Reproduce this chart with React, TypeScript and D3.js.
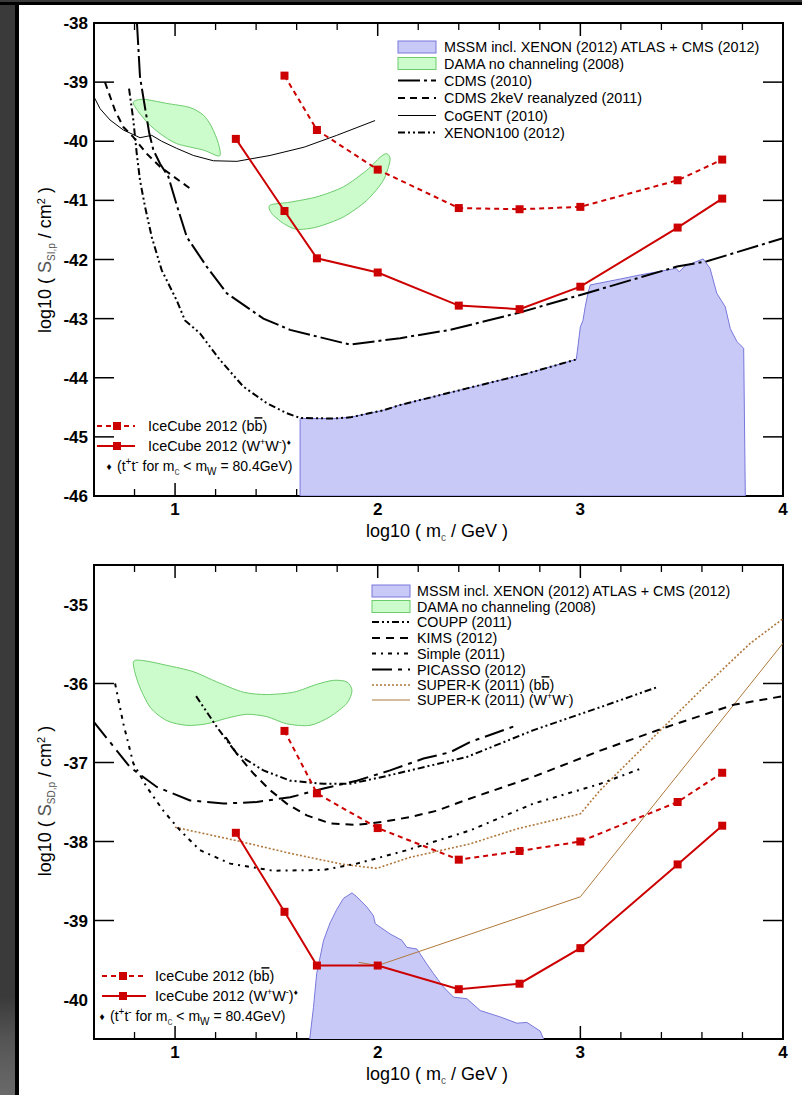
import React from "react";
import * as d3 from "d3";

// log10(m / GeV) of the IceCube mass points
const massWW = [1.3, 1.54, 1.7, 2.0, 2.4, 2.7, 3.0, 3.48, 3.7];
const massBB = [1.54, 1.7, 2.0, 2.4, 2.7, 3.0, 3.48, 3.7];

// spin-independent (top panel)
const siBB = [-38.89, -39.81, -40.48, -41.13, -41.15, -41.11, -40.66, -40.31];
const siWW = [-39.96, -41.18, -41.98, -42.22, -42.78, -42.84, -42.46, -41.46, -40.97];

// spin-dependent (bottom panel)
const sdBB = [-36.6, -37.39, -37.83, -38.23, -38.12, -38.0, -37.5, -37.13];
const sdWW = [-37.89, -38.89, -39.57, -39.57, -39.87, -39.8, -39.35, -38.29, -37.8];

const cdms2010 = [
  [0.812, -38.0], [0.827, -38.91], [0.843, -39.25], [0.873, -39.87], [0.893, -40.15],
  [0.926, -40.38], [0.967, -40.6], [1.011, -41.11], [1.058, -41.62], [1.156, -42.12],
  [1.255, -42.57], [1.436, -43.0], [1.568, -43.19], [1.864, -43.44], [2.111, -43.33],
  [2.358, -43.19], [2.687, -42.91], [3.0, -42.6], [3.477, -42.12], [3.625, -42.03], [4.0, -41.64],
];
const cdms2kev = [
  [0.654, -39.0], [0.704, -39.48], [0.745, -39.76], [0.794, -39.93],
  [0.86, -40.21], [0.926, -40.43], [1.074, -40.8],
];
const cogent = [
  [0.6, -39.25], [0.63, -39.45], [0.679, -39.64], [0.745, -39.81], [0.827, -39.94],
  [0.885, -39.9], [0.934, -40.0], [1.008, -40.12], [1.09, -40.24], [1.189, -40.33],
  [1.305, -40.34], [1.469, -40.24], [1.637, -40.1], [1.798, -39.9], [1.987, -39.65],
];
const xenon100 = [
  [0.773, -39.11], [0.794, -39.64], [0.811, -40.21], [0.827, -40.66], [0.852, -41.11],
  [0.885, -41.62], [0.934, -42.18], [1.008, -42.69], [1.049, -43.03], [1.123, -43.25],
  [1.222, -43.7], [1.337, -44.15], [1.453, -44.43], [1.551, -44.6], [1.617, -44.68],
  [1.781, -44.69], [1.864, -44.67], [2.028, -44.55], [2.111, -44.46], [2.44, -44.18],
  [2.736, -43.93], [2.98, -43.69],
];
const mssmSI = [
  [1.617, -44.69], [1.781, -44.69], [1.864, -44.67], [2.028, -44.55], [2.111, -44.46],
  [2.44, -44.18], [2.736, -43.93], [2.98, -43.69], [3.0, -43.14], [3.013, -43.03],
  [3.024, -42.8], [3.039, -42.55], [3.049, -42.43], [3.197, -42.33], [3.296, -42.26],
  [3.394, -42.2], [3.473, -42.15], [3.488, -42.21], [3.517, -42.11], [3.606, -41.99],
  [3.64, -42.15], [3.673, -42.57], [3.715, -42.8], [3.74, -43.17], [3.773, -43.39],
  [3.806, -43.5], [3.814, -46.0],
];
const damaSI1 = [
  [0.794, -39.34], [0.844, -39.29], [0.959, -39.36], [1.074, -39.43], [1.14, -39.56],
  [1.181, -39.76], [1.214, -40.04], [1.219, -40.25], [1.14, -40.15], [1.008, -40.04],
  [0.926, -39.87], [0.868, -39.7], [0.819, -39.5],
];
const damaSI2 = [
  [1.469, -41.08], [1.568, -41.03], [1.7, -40.94], [1.831, -40.77], [1.946, -40.49],
  [2.012, -40.27], [2.045, -40.21], [2.061, -40.32], [2.028, -40.66], [1.946, -41.0],
  [1.831, -41.28], [1.7, -41.45], [1.601, -41.49], [1.535, -41.39], [1.477, -41.22],
];

const coupp = [
  [1.104, -36.16], [1.206, -36.55], [1.305, -36.89], [1.436, -37.1], [1.568, -37.23],
  [1.733, -37.27], [1.864, -37.27], [2.028, -37.18], [2.226, -37.06], [2.44, -36.93],
  [2.769, -36.59], [3.098, -36.3], [3.386, -36.04],
];
const kims = [
  [1.25, -36.68], [1.305, -36.89], [1.387, -37.14], [1.469, -37.35], [1.551, -37.52],
  [1.65, -37.67], [1.765, -37.77], [1.897, -37.79], [2.028, -37.75], [2.16, -37.69],
  [2.292, -37.61], [2.44, -37.47], [2.769, -37.18], [3.098, -36.85], [3.427, -36.55],
  [3.756, -36.27], [4.0, -36.16],
];
const simple = [
  [0.704, -36.0], [0.745, -36.51], [0.794, -37.01], [0.86, -37.31], [0.942, -37.61],
  [1.025, -37.86], [1.123, -38.11], [1.272, -38.28], [1.485, -38.37], [1.733, -38.36],
  [1.897, -38.28], [2.144, -38.11], [2.456, -37.86], [2.769, -37.52], [3.098, -37.27],
  [3.296, -37.08],
];
const picasso = [
  [0.6, -36.49], [0.697, -36.8], [0.778, -37.06], [0.91, -37.31], [1.074, -37.48],
  [1.239, -37.52], [1.403, -37.5], [1.568, -37.44], [1.733, -37.33], [1.897, -37.23],
  [2.061, -37.1], [2.226, -36.95], [2.358, -36.87], [2.456, -36.74], [2.687, -36.53],
];
const superkBB = [
  [1.0, -37.82], [1.305, -37.99], [1.568, -38.15], [1.831, -38.29], [1.996, -38.34],
  [2.16, -38.2], [2.456, -38.03], [2.687, -37.84], [3.0, -37.65], [3.098, -37.35],
  [3.18, -37.14], [3.345, -36.72], [3.592, -36.09], [3.839, -35.49], [4.0, -35.18],
];
const superkWW = [[1.906, -39.53], [2.0, -39.57], [3.0, -38.7], [4.0, -35.49]];
const mssmSD = [
  [1.66, -40.6], [1.683, -40.1], [1.699, -39.67], [1.733, -39.25], [1.765, -39.03],
  [1.798, -38.86], [1.831, -38.72], [1.873, -38.65], [1.897, -38.7], [1.947, -38.83],
  [1.979, -38.94], [1.988, -39.04], [2.061, -39.17], [2.119, -39.25], [2.144, -39.34],
  [2.193, -39.36], [2.242, -39.55], [2.275, -39.67], [2.324, -39.84], [2.374, -39.97],
  [2.44, -39.99], [2.506, -40.14], [2.604, -40.22], [2.687, -40.3], [2.736, -40.29],
  [2.802, -40.4], [2.835, -40.6],
];
const damaSD = [
  [0.794, -35.73], [0.843, -35.71], [0.959, -35.77], [1.09, -35.85], [1.206, -35.98],
  [1.337, -36.11], [1.453, -36.14], [1.585, -36.11], [1.7, -36.01], [1.782, -35.96],
  [1.848, -35.98], [1.873, -36.09], [1.848, -36.25], [1.765, -36.42], [1.666, -36.53],
  [1.551, -36.51], [1.453, -36.42], [1.354, -36.39], [1.255, -36.44], [1.156, -36.51],
  [1.058, -36.53], [0.959, -36.47], [0.877, -36.3], [0.819, -36.0],
];

const xTickLabels = [1, 2, 3, 4];
const siTickLabels = [-46, -45, -44, -43, -42, -41, -40, -39, -38];
const sdTickLabels = [-40, -39, -38, -37, -36, -35];

const FONT = "'Liberation Sans', Arial, Helvetica, sans-serif";
const RED = "#cc0000";
const BROWN = "#b0783c";
const BLUE_FILL = "#c9c9f7";
const BLUE_LINE = "#7878dc";
const GREEN_FILL = "#ccfccc";
const GREEN_LINE = "#6ccc6c";
const DASH_CDMS = "22,4,3,4";
const DASH_DDOT = "7,3,2,3,2,3";

const x = d3.scaleLinear().domain([0.6, 4]).range([94, 783]);
const yTop = d3.scaleLinear().domain([-46, -38]).range([496, 23]);
const yBot = d3.scaleLinear().domain([-40.5, -34.5]).range([1039, 565]);

const Sup = ({ children, size = 9 }) => (
  <tspan baselineShift="6" fontSize={size}>{children}</tspan>
);
const Sub = ({ children, size = 10, fill = "#555" }) => (
  <tspan baselineShift="-4" fontSize={size} fill={fill}>{children}</tspan>
);

function Axes({ y, labels, id }) {
  const [x0, x1] = x.range();
  const [yb, yt] = y.range();
  const minor = d3.range(0.8, 3.9, 0.2).filter((v) => Math.abs(v - Math.round(v)) > 0.05);
  const major = [1, 2, 3];
  const inner = labels.slice(1, -1);
  return (
    <g>
      {minor.map((v) => (
        <g key={"m" + v}>
          <line x1={x(v)} x2={x(v)} y1={yt} y2={yt + 7} stroke="#000" strokeWidth={1.3} />
          <line x1={x(v)} x2={x(v)} y1={yb} y2={yb - 7} stroke="#000" strokeWidth={1.3} />
        </g>
      ))}
      {major.map((v) => (
        <g key={"M" + v}>
          <line x1={x(v)} x2={x(v)} y1={yt} y2={yt + 13} stroke="#000" strokeWidth={1.5} />
          <line x1={x(v)} x2={x(v)} y1={yb} y2={yb - 13} stroke="#000" strokeWidth={1.5} />
        </g>
      ))}
      {inner.map((v) => (
        <g key={"y" + v}>
          <line x1={x0} x2={x0 + 20} y1={y(v)} y2={y(v)} stroke="#000" strokeWidth={1.5} />
          <line x1={x1} x2={x1 - 20} y1={y(v)} y2={y(v)} stroke="#000" strokeWidth={1.5} />
        </g>
      ))}
      <rect x={x0} y={yt} width={x1 - x0} height={yb - yt} fill="none" stroke="#000" strokeWidth={2} />
      {labels.map((v) => (
        <text key={"l" + v} x={88} y={y(v)} dy="0.36em" textAnchor="end" fontSize={17} fontWeight="bold">
          {v}
        </text>
      ))}
      {xTickLabels.map((v) => (
        <text key={"xl" + v} x={x(v)} y={yb + 19} textAnchor="middle" fontSize={17} fontWeight="bold">
          {v}
        </text>
      ))}
      <text x={437} y={yb + 41} textAnchor="middle" fontSize={18}>
        log10 ( m<Sub>c</Sub> / GeV )
      </text>
      <clipPath id={id}>
        <rect x={x0} y={yt} width={x1 - x0} height={yb - yt} />
      </clipPath>
    </g>
  );
}

function IceLegend({ lx, y0, mx, tx, dx, ftx }) {
  return (
    <g>
      <line x1={lx[0]} x2={lx[1]} y1={y0} y2={y0} stroke={RED} strokeWidth={2} strokeDasharray="5,4" />
      <rect x={mx - 4} y={y0 - 4} width={8} height={8} fill={RED} />
      <text x={tx} y={y0} dy="0.36em" fontSize={14.4}>
        IceCube 2012 (b<tspan style={{ textDecoration: "overline" }}>b</tspan>)
      </text>
      <line x1={lx[0]} x2={lx[1]} y1={y0 + 20} y2={y0 + 20} stroke={RED} strokeWidth={2} />
      <rect x={mx - 4} y={y0 + 16} width={8} height={8} fill={RED} />
      <text x={tx} y={y0 + 20} dy="0.36em" fontSize={14.4}>
        IceCube 2012 (W<Sup>+</Sup>W<Sup>-</Sup>)<Sup size={8}>{"\u2666"}</Sup>
      </text>
      <text x={dx} y={y0 + 40} dy="0.36em" fontSize={10} textAnchor="middle">{"\u2666"}</text>
      <text x={ftx} y={y0 + 40} dy="0.36em" fontSize={14}>
        (t<Sup size={10}>+</Sup>t<Sup size={10}>-</Sup> for m<Sub>c</Sub> {"<"} m<Sub fill="#000">W</Sub> = 80.4GeV)
      </text>
    </g>
  );
}

function LegendRow({ y0, x0, tx, label, dash, color = "#000", width = 2, fill, stroke, fs }) {
  return (
    <g>
      {fill ? (
        <rect x={x0} y={y0 - 6} width={38} height={12} fill={fill} stroke={stroke} strokeWidth={1} />
      ) : (
        <line x1={x0} x2={x0 + 38} y1={y0} y2={y0} stroke={color} strokeWidth={width} strokeDasharray={dash} />
      )}
      <text x={tx} y={y0} dy="0.36em" fontSize={fs}>{label}</text>
    </g>
  );
}

const App = () => {
  const lineTop = d3.line().x((d) => x(d[0])).y((d) => yTop(d[1]));
  const lineBot = d3.line().x((d) => x(d[0])).y((d) => yBot(d[1]));
  const blobTop = d3.line().x((d) => x(d[0])).y((d) => yTop(d[1])).curve(d3.curveCardinalClosed.tension(0.2));
  const blobBot = d3.line().x((d) => x(d[0])).y((d) => yBot(d[1])).curve(d3.curveCardinalClosed.tension(0.2));
  const areaTop = d3.area().x((d) => x(d[0])).y0(yTop(-46)).y1((d) => yTop(d[1]));
  const areaBot = d3.area().x((d) => x(d[0])).y0(yBot(-40.6)).y1((d) => yBot(d[1]));

  const ice = (ms, vs, y, dashed, key) => (
    <g key={key}>
      <path
        d={d3.line().x((d, i) => x(ms[i])).y((d) => y(d))(vs)}
        fill="none"
        stroke={RED}
        strokeWidth={2}
        strokeDasharray={dashed ? "5,4" : null}
      />
      {vs.map((v, i) => (
        <rect key={i} x={x(ms[i]) - 4} y={y(v) - 4} width={8} height={8} fill={RED} />
      ))}
    </g>
  );

  return (
    <svg
      width={802}
      height={1095}
      style={{ position: "absolute", left: 0, top: 0, fontFamily: FONT, background: "#fff" }}
    >
      <defs>
        <linearGradient id="edge" x1="0" y1="0" x2="0" y2="1">
          <stop offset="0" stopColor="#3a3a3a" />
          <stop offset="0.91" stopColor="#3a3a3a" />
          <stop offset="0.95" stopColor="#555" />
          <stop offset="1" stopColor="#6a6a6a" />
        </linearGradient>
      </defs>
      <rect x={0} y={0} width={802} height={1095} fill="#fff" />
      <rect x={0} y={0} width={15} height={1095} fill="url(#edge)" />
      <rect x={15} y={0} width={4} height={1095} fill="#000" />
      <rect x={0} y={0} width={802} height={2} fill="#3a3a3a" />
      <rect x={0} y={2} width={802} height={3} fill="#000" />

      {/* ---------- spin-independent ---------- */}
      <Axes y={yTop} labels={siTickLabels} id="clipTop" />
      <g clipPath="url(#clipTop)">
        <path d={areaTop(mssmSI)} fill={BLUE_FILL} stroke={BLUE_LINE} strokeWidth={1} />
        <path d={blobTop(damaSI1)} fill={GREEN_FILL} stroke={GREEN_LINE} strokeWidth={1} />
        <path d={blobTop(damaSI2)} fill={GREEN_FILL} stroke={GREEN_LINE} strokeWidth={1} />
        <path d={lineTop(cogent)} fill="none" stroke="#000" strokeWidth={1} />
        <path d={lineTop(cdms2kev)} fill="none" stroke="#000" strokeWidth={2} strokeDasharray="7,5" />
        <path d={lineTop(xenon100)} fill="none" stroke="#000" strokeWidth={2} strokeDasharray={DASH_DDOT} />
        <path d={lineTop(cdms2010)} fill="none" stroke="#000" strokeWidth={2} strokeDasharray={DASH_CDMS} />
        {ice(massBB, siBB, yTop, true, "sb")}
        {ice(massWW, siWW, yTop, false, "sw")}
      </g>
      <LegendRow y0={47} x0={398} tx={444} fs={14.4} label="MSSM incl. XENON (2012) ATLAS + CMS (2012)" fill={BLUE_FILL} stroke={BLUE_LINE} />
      <LegendRow y0={63.5} x0={398} tx={444} fs={14.4} label="DAMA no channeling (2008)" fill={GREEN_FILL} stroke={GREEN_LINE} />
      <LegendRow y0={80.5} x0={398} tx={444} fs={14.4} label="CDMS (2010)" dash={DASH_CDMS} />
      <LegendRow y0={98} x0={398} tx={444} fs={14.4} label="CDMS 2keV reanalyzed (2011)" dash="7,5" />
      <LegendRow y0={115.5} x0={398} tx={444} fs={14.4} label="CoGENT (2010)" width={1} />
      <LegendRow y0={132.5} x0={398} tx={444} fs={14.4} label="XENON100 (2012)" dash={DASH_DDOT} />
      <IceLegend lx={[97, 135]} y0={426} mx={117} tx={148} dx={109} ftx={117} />
      <text transform="translate(51,260) rotate(-90)" textAnchor="middle" fontSize={18}>
        log10 ( <tspan fill="#555">S</tspan><Sub>SI,p</Sub> / cm<Sup size={11}>2</Sup> )
      </text>

      {/* ---------- spin-dependent ---------- */}
      <Axes y={yBot} labels={sdTickLabels} id="clipBot" />
      <g clipPath="url(#clipBot)">
        <path d={areaBot(mssmSD)} fill={BLUE_FILL} stroke={BLUE_LINE} strokeWidth={1} />
        <path d={blobBot(damaSD)} fill={GREEN_FILL} stroke={GREEN_LINE} strokeWidth={1} />
        <path d={lineBot(superkWW)} fill="none" stroke={BROWN} strokeWidth={1} />
        <path d={lineBot(superkBB)} fill="none" stroke={BROWN} strokeWidth={1.6} strokeDasharray="2,2" />
        <path d={lineBot(simple)} fill="none" stroke="#000" strokeWidth={2} strokeDasharray="4,5,2,5" />
        <path d={lineBot(kims)} fill="none" stroke="#000" strokeWidth={2} strokeDasharray="8,6" />
        <path d={lineBot(coupp)} fill="none" stroke="#000" strokeWidth={2} strokeDasharray={DASH_DDOT} />
        <path d={lineBot(picasso)} fill="none" stroke="#000" strokeWidth={2} strokeDasharray="20,6,4,6" />
        {ice(massBB, sdBB, yBot, true, "db")}
        {ice(massWW, sdWW, yBot, false, "dw")}
      </g>
      <LegendRow y0={591} x0={372} tx={417} fs={14.3} label="MSSM incl. XENON (2012) ATLAS + CMS (2012)" fill={BLUE_FILL} stroke={BLUE_LINE} />
      <LegendRow y0={606.5} x0={372} tx={417} fs={14.3} label="DAMA no channeling (2008)" fill={GREEN_FILL} stroke={GREEN_LINE} />
      <LegendRow y0={622} x0={372} tx={417} fs={14.3} label="COUPP (2011)" dash={DASH_DDOT} />
      <LegendRow y0={638} x0={372} tx={417} fs={14.3} label="KIMS (2012)" dash="8,6" />
      <LegendRow y0={653.5} x0={372} tx={417} fs={14.3} label="Simple (2011)" dash="4,5,2,5" />
      <LegendRow y0={669.5} x0={372} tx={417} fs={14.3} label="PICASSO (2012)" dash="20,6,4,6" />
      <LegendRow y0={685} x0={372} tx={417} fs={14.3} label={<>SUPER-K (2011) (b<tspan style={{ textDecoration: "overline" }}>b</tspan>)</>} dash="2,2" color={BROWN} width={1.6} />
      <LegendRow y0={700} x0={372} tx={417} fs={14.3} label={<>SUPER-K (2011) (W<Sup>+</Sup>W<Sup>-</Sup>)</>} color={BROWN} width={1} />
      <IceLegend lx={[102, 146]} y0={976} mx={123} tx={155} dx={102} ftx={110} />
      <text transform="translate(51,801) rotate(-90)" textAnchor="middle" fontSize={18}>
        log10 ( <tspan fill="#555">S</tspan><Sub>SD,p</Sub> / cm<Sup size={11}>2</Sup> )
      </text>
    </svg>
  );
};

export default App;
